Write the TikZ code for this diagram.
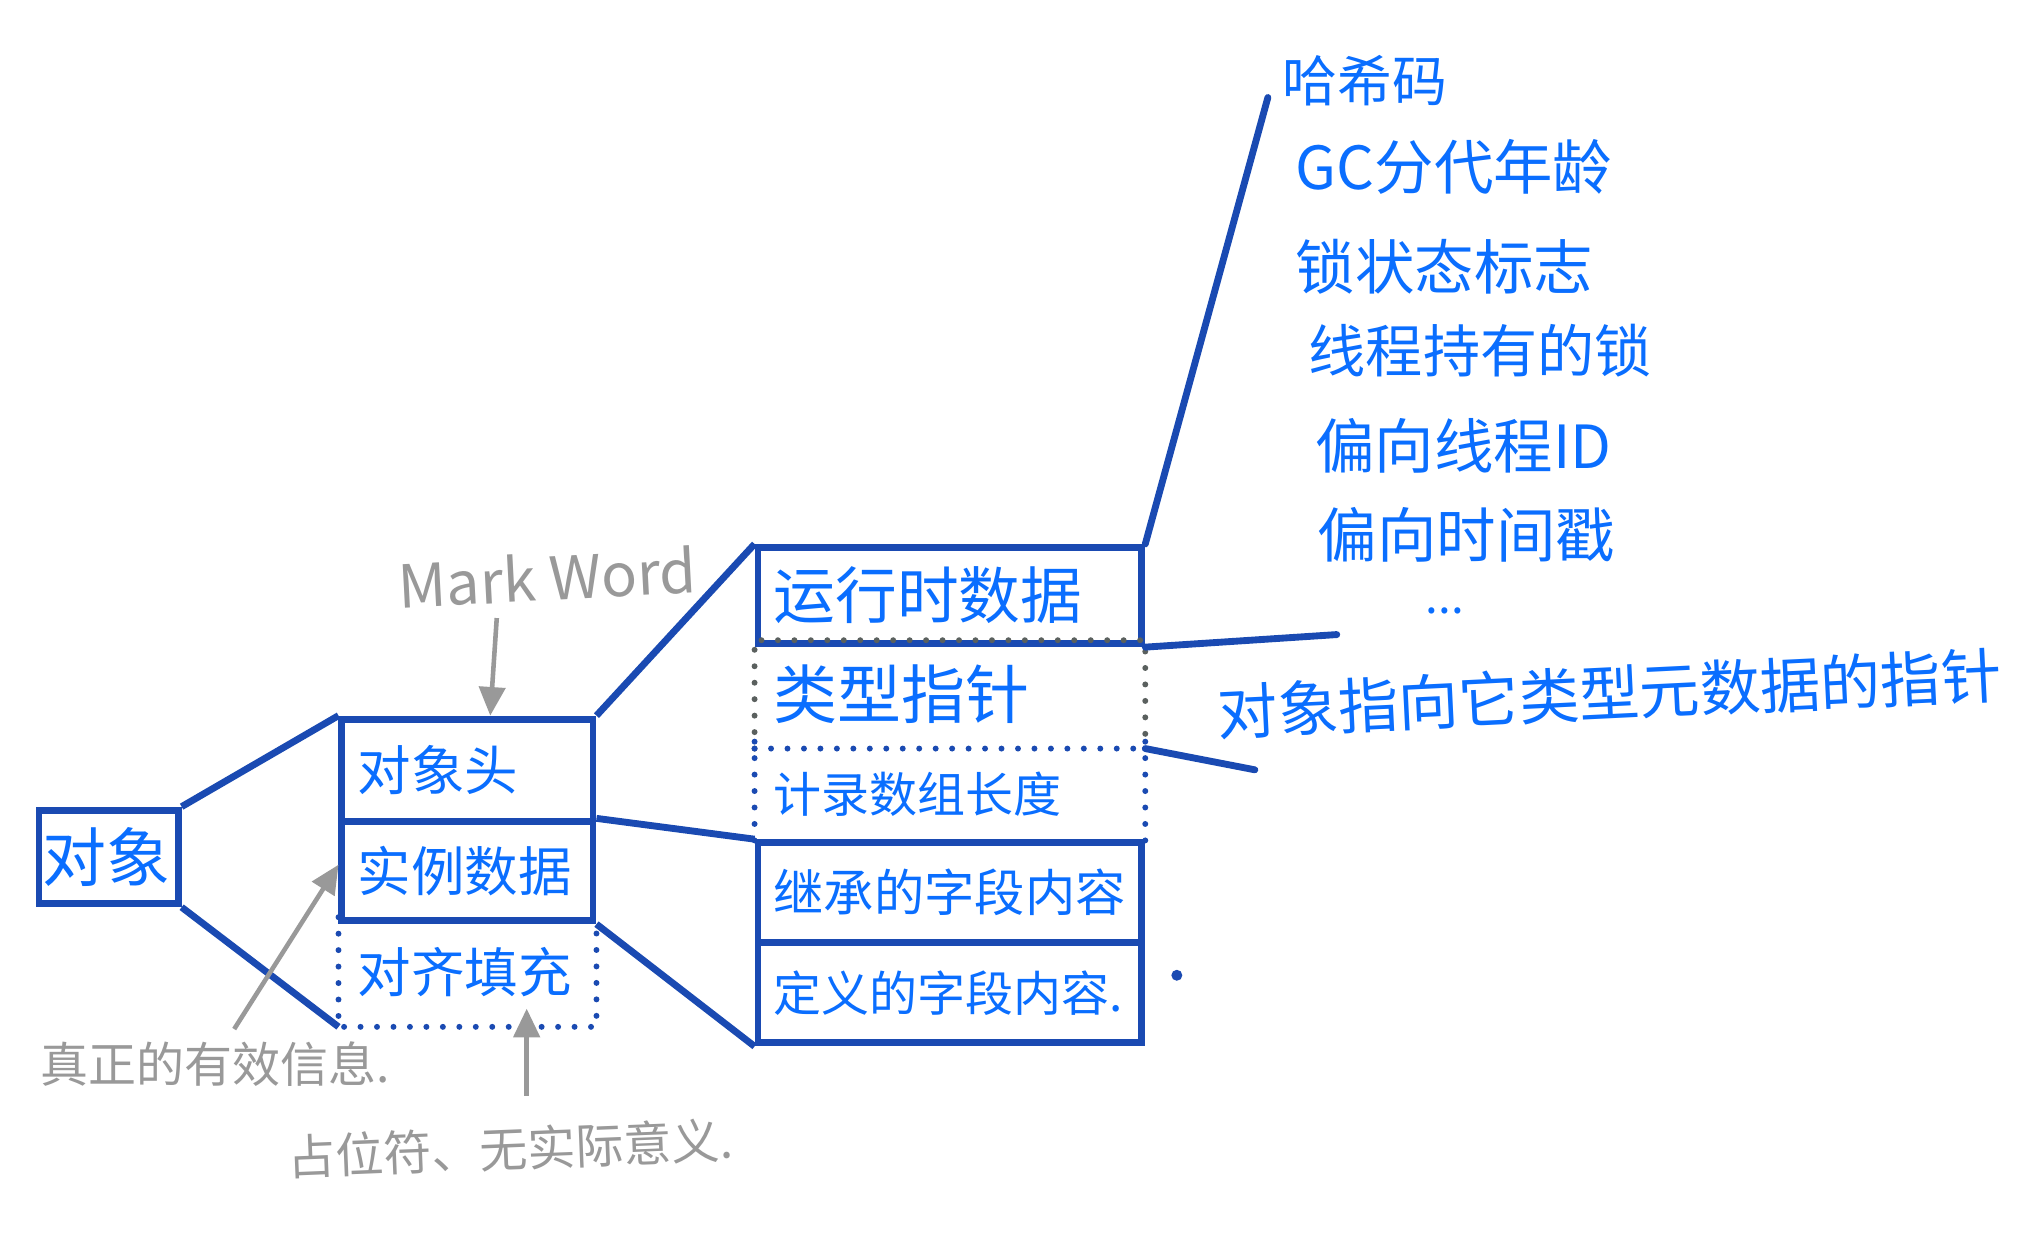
\documentclass[tikz,border=0pt]{standalone}
\usepackage{fontspec}
\setmainfont{Noto Sans CJK SC}
\usepackage{tikz}
\usetikzlibrary{arrows.meta}
\definecolor{frame}{RGB}{26, 74, 178}
\definecolor{ink}{RGB}{10, 110, 255}
\definecolor{pencil}{RGB}{153, 153, 153}
\definecolor{lead}{RGB}{90, 96, 94}
\newcommand{\inksize}[1]{\fontsize{#1pt}{#1pt}\selectfont}
\tikzset{
  cell/.style={draw=frame, line width=1.5pt, text=ink, text width=#1,
    inner xsep=0.12cm, inner ysep=0pt, align=left},
  wire/.style={frame, line width=1.5pt},
  dots/.style={line width=1.3pt, line cap=round, dash pattern=on 0pt off 3.6pt},
  fact/.style={text=ink, anchor=west, inner sep=0pt},
  remark/.style={text=pencil, anchor=west, inner sep=0pt},
  pointer/.style={pencil, line width=1pt, -{Triangle[length=0.22cm, width=0.2cm]}}
}

\begin{document}
\begin{tikzpicture}[x=0.01cm, y=-0.01cm, thick]

  \fill[white] (0, 0) rectangle (1568, 955);

  \node[cell=1.01cm, inner xsep=0.03cm, minimum height=0.72cm, font=\inksize{14}] (obj) at (83.5, 659) {对象};

  \node[cell=1.69cm, minimum height=0.79cm, font=\inksize{11.7}] (head) at (359.5, 592.5) {对象头};
  \node[cell=1.69cm, minimum height=0.76cm, font=\inksize{11.7}] (inst) at (359.5, 670) {实例数据};
  \node[cell=1.69cm, draw=none, minimum height=0.79cm, font=\inksize{11.7}] (pad) at (359.5, 747.5) {对齐填充};

  \node[cell=2.71cm, minimum height=0.74cm, font=\inksize{13.5}] (run) at (730.5, 458) {运行时数据};
  \node[cell=2.71cm, draw=none, minimum height=0.78cm, font=\inksize{14}] (klass) at (730.5, 534) {类型指针};
  \node[cell=2.71cm, draw=none, minimum height=0.75cm, font=\inksize{10.5}] (alen) at (730.5, 610.5) {计录数组长度};
  \node[cell=2.71cm, minimum height=0.77cm, font=\inksize{11}] (inher) at (730.5, 686.5) {继承的字段内容};
  \node[cell=2.71cm, minimum height=0.77cm, font=\inksize{10.5}] (defn) at (730.5, 763.5) {定义的字段内容.};

  \draw[dots, frame] (pad.north west) -- (pad.south west) -- (pad.south east) -- (pad.north east);
  \draw[dots, lead] (klass.south west) -- (klass.north west) -- (klass.north east) -- (klass.south east);
  \draw[dots, frame] (klass.south west) -- (klass.south east);
  \draw[dots, frame] (alen.north west) -- (alen.south west);
  \draw[dots, frame] (alen.north east) -- (alen.south east);

  \draw[wire] (obj.north east) -- (head.north west);
  \draw[wire] (obj.south east) -- (pad.south west);
  \draw[wire] (head.north east) -- (run.north west);
  \draw[wire] (inst.north east) -- (inher.north west);
  \draw[wire] (inst.south east) -- (defn.south west);

  \coordinate (markend) at (975, 75);
  \coordinate (klasstop) at (1028, 488);
  \coordinate (klassbot) at (965, 592);
  \draw[wire, line cap=round] (run.north east) -- (markend);
  \draw[wire, line cap=round] (run.south east) -- (klasstop);
  \draw[wire, line cap=round] (klass.south east) -- (klassbot);

  \node[fact, font=\inksize{12}] (hash) at (985, 62) {哈希码};
  \node[fact, font=\inksize{13}] (age) at (995, 128) {GC分代年龄};
  \node[fact, font=\inksize{13}] (lock) at (995, 205) {锁状态标志};
  \node[fact, font=\inksize{12.5}] (own) at (1005, 270) {线程持有的锁};
  \node[fact, font=\inksize{13}] (tid) at (1010, 343) {偏向线程ID};
  \node[fact, font=\inksize{13}] (stamp) at (1012, 411) {偏向时间戳};
  \node[fact, font=\inksize{10}] (more) at (1095, 470) {...};

  \node[fact, rotate=2.8, font=\inksize{13.2}] (meta) at (935, 548) {对象指向它类型元数据的指针};

  \node[remark, rotate=3, font=\inksize{13}] (mw) at (305, 450) {Mark Word};
  \node[remark, font=\inksize{10.5}] (real) at (30, 818) {真正的有效信息.};
  \node[remark, rotate=2.3, font=\inksize{10.5}] (place) at (220, 890) {占位符、无实际意义.};

  \draw[pointer] ([xshift=0.225cm, yshift=0.75cm]head.north) -- ([xshift=0.175cm]head.north);
  \draw[pointer] ([xshift=1.5cm, yshift=0.08cm]real.north west) -- ([yshift=0.05cm]inst.west);
  \draw[pointer] ([xshift=0.455cm, yshift=-0.53cm]pad.south) -- ([xshift=0.455cm, yshift=0.14cm]pad.south);

  \fill[frame] (905, 750) circle (1.2pt);

\end{tikzpicture}
\end{document}
